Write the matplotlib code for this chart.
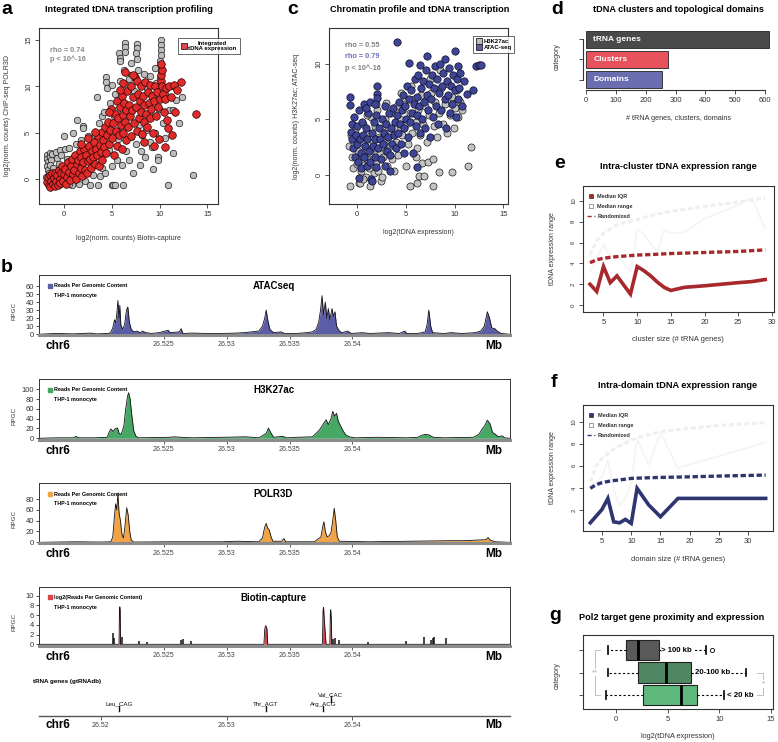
import numpy as np
import matplotlib
matplotlib.use('Agg')
import matplotlib.pyplot as plt
from matplotlib.lines import Line2D

plt.rcParams['font.family'] = ['Liberation Sans', 'DejaVu Sans']

# ---------------- data ----------------
# a: ChIP-seq POLR3D vs Biotin-capture (log2 norm. counts)
a_gray = [(-1.8,2.6),(-1.8,2.2),(-1.7,1.8),(-1.8,1.4),(-1.7,1.0),(-1.5,2.8),(-1.5,2.4),(-1.4,2.0),(-1.5,1.5),
          (-1.3,2.7),(-1.2,1.2),(-1.6,0.6),(-1.9,0.2),(-1.1,0.3),(-0.9,2.9),(-0.8,2.3),(-0.6,1.6),(-0.5,3.1),
          (-0.3,2.6),(-0.2,1.0),(0.1,3.2),(0.0,4.6),(0.3,2.2),(0.5,3.3),(0.6,0.2),(0.9,5.0),(0.8,-0.6),(1.2,3.8),
          (1.3,6.4),(1.5,-0.5),(1.6,2.6),(1.8,4.2),(2.0,5.7),(2.0,5.5),(2.2,-0.2),(2.4,1.0),(2.5,4.6),(2.7,-0.6),
          (2.9,3.5),(3.0,0.4),(3.2,4.8),(3.4,8.9),(3.5,-0.6),(3.6,6.0),(3.7,0.3),(3.8,2.8),(3.9,6.8),(4.0,1.2),
          (4.2,7.2),(4.3,0.6),(4.4,11.0),(4.4,10.5),(4.5,9.8),(4.6,5.2),(4.7,3.1),(4.8,8.2),(5.0,-0.6),(5.1,-0.6),
          (5.0,1.4),(5.2,6.8),(5.3,-0.6),(5.3,9.2),(5.5,2.0),(5.6,4.3),(5.7,13.6),(5.8,13.1),(5.8,12.7),(5.8,10.6),
          (6.0,1.5),(6.1,8.0),(6.2,-0.6),(6.3,11.8),(6.4,14.7),(6.4,14.3),(6.4,13.7),(6.5,3.0),(6.6,10.2),(6.8,2.0),
          (6.9,7.0),(7.0,11.2),(7.2,0.6),(7.3,9.5),(7.5,3.8),(7.6,14.6),(7.6,14.1),(7.5,13.6),(7.6,13.0),(7.7,11.8),
          (7.8,5.8),(7.9,1.5),(8.0,8.8),(8.1,4.7),(8.3,11.3),(8.5,2.4),(8.6,5.3),(8.7,9.8),(8.9,7.0),(9.0,11.1),
          (9.2,3.5),(9.3,1.1),(9.4,8.5),(9.5,5.0),(9.6,10.4),(9.8,2.4),(9.8,2.0),(9.9,7.6),(10.1,15.0),(10.1,14.5),
          (10.1,13.9),(10.1,13.4),(10.0,12.7),(10.0,12.2),(10.1,11.6),(10.0,10.9),(10.3,6.0),(10.5,4.4),(10.6,9.2),
          (10.9,-0.6),(11.0,7.5),(11.2,10.0),(11.4,2.8),(11.4,7.4),(11.7,8.5),(12.0,6.0),(12.3,8.9),(13.5,0.4),
          (9.0,4.0),(8.0,3.0),(7.0,4.5),(6.0,5.5),(3.0,2.0),(2.0,0.5),(1.0,1.5),(0.5,-0.5),(-0.5,-0.5),(4.0,4.5),
          (5.5,7.5),(8.5,10.5),(9.5,12.0),(7.0,12.5),(6.8,10.8),(5.0,10.2)]
a_red = [(-1.8,-0.3),(-1.7,0.2),(-1.6,-0.6),(-1.5,0.4),(-1.5,-0.9),(-1.4,-0.2),(-1.3,0.6),(-1.2,-0.5),(-1.1,0.1),
         (-1.0,-0.8),(-1.0,0.7),(-0.9,-0.2),(-0.8,0.4),(-0.7,-0.6),(-0.6,1.0),(-0.5,0.0),(-0.4,-0.4),(-0.3,0.6),
         (-0.2,1.4),(-0.1,-0.2),(0.0,0.5),(0.1,1.1),(0.2,-0.5),(0.3,0.2),(0.4,1.8),(0.5,0.8),(0.6,-0.1),(0.7,1.4),
         (0.8,2.2),(0.9,0.5),(1.0,1.0),(1.1,2.6),(1.2,0.0),(1.3,1.6),(1.4,2.1),(1.5,0.7),(1.6,3.0),(1.7,1.2),
         (1.8,2.4),(1.9,0.3),(2.0,1.8),(2.1,3.2),(2.2,1.0),(2.3,2.6),(2.4,0.6),(2.5,1.9),(2.6,3.6),(2.7,2.2),
         (2.8,1.2),(2.9,3.0),(3.0,2.4),(3.1,4.0),(3.2,1.6),(3.3,3.2),(3.4,2.6),(3.5,4.6),(3.6,1.4),(3.7,3.7),
         (3.8,2.9),(3.9,5.1),(4.0,2.1),(4.1,4.2),(4.2,3.4),(4.3,5.6),(4.4,2.8),(4.5,4.8),(4.6,6.2),(4.7,3.8),
         (4.8,5.3),(4.9,7.6),(5.0,4.4),(5.1,6.0),(5.2,2.6),(5.3,7.0),(5.4,5.2),(5.5,8.4),(5.5,3.6),(5.6,6.6),
         (5.7,4.8),(5.8,7.8),(5.9,5.8),(6.0,9.0),(6.0,3.2),(6.1,6.9),(6.2,10.4),(6.2,5.0),(6.3,8.2),(6.4,6.2),
         (6.5,7.5),(6.5,4.2),(6.6,9.5),(6.7,5.6),(6.8,8.0),(6.9,6.8),(7.0,10.0),(7.0,4.6),(7.1,7.4),(7.2,8.8),
         (7.3,6.0),(7.4,11.0),(7.5,7.8),(7.6,10.6),(7.6,5.2),(7.7,9.2),(7.8,6.6),(7.9,8.4),(8.0,7.2),(8.0,10.0),
         (8.1,4.9),(8.2,9.0),(8.3,6.2),(8.4,8.0),(8.5,10.5),(8.6,7.0),(8.7,5.6),(8.8,9.4),(8.9,8.2),(9.0,6.6),
         (9.0,10.2),(9.1,7.6),(9.2,9.0),(9.3,5.0),(9.4,8.4),(9.5,10.0),(9.6,6.8),(9.7,9.4),(9.8,7.8),(9.9,4.3),
         (10.0,8.6),(10.1,10.6),(10.1,11.2),(10.2,11.8),(10.1,12.4),(10.2,10.0),(10.3,9.2),(10.4,7.2),(10.5,8.6),
         (10.6,3.4),(10.7,9.8),(10.8,6.4),(11.0,10.0),(11.2,8.8),(11.3,4.8),(11.5,10.2),(11.6,7.2),(11.8,9.6),
         (12.2,10.5),(13.8,7.0),(10.9,5.5),(9.4,3.6),(8.3,4.0),(6.4,11.5),(7.2,11.2),(5.8,9.6),(4.7,7.2),
         (3.2,5.1),(2.5,4.4),(1.8,3.8)]

# c: H3K27ac / ATAC-seq vs tDNA expression
c_h3k27ac = [(-0.8,2.6),(-0.7,-0.95),(-0.6,3.6),(-0.5,1.6),(-0.4,0.6),(-0.3,2.8),(-0.2,4.0),(0.0,1.0),(0.1,2.2),
             (0.2,-0.7),(0.3,-0.7),(0.2,3.2),(0.4,0.4),(0.5,1.8),(0.6,4.6),(0.7,0.9),(0.8,2.6),(0.9,-0.2),(1.0,1.4),
             (1.1,3.8),(1.2,0.6),(1.3,-0.95),(1.3,2.0),(1.4,5.2),(1.5,1.0),(1.6,3.0),(1.7,0.2),(1.8,2.4),(1.9,4.4),
             (2.0,1.2),(2.1,5.8),(2.2,0.4),(2.3,3.4),(2.4,2.0),(2.5,-0.5),(2.6,4.2),(2.7,1.6),(2.8,3.0),(2.9,5.0),
             (3.0,2.2),(3.1,0.8),(3.2,3.8),(3.4,2.6),(3.5,5.6),(3.6,1.4),(3.8,4.2),(4.0,3.0),(4.1,6.2),(4.2,1.8),
             (4.4,5.0),(4.6,3.6),(4.8,6.4),(5.0,0.8),(5.0,4.6),(5.2,2.8),(5.4,-1.0),(5.4,5.6),(5.6,3.8),(5.8,6.8),
             (6.0,4.8),(6.1,2.4),(6.2,-0.75),(6.3,5.8),(6.4,-0.05),(6.5,3.6),(6.6,7.2),(6.7,1.1),(6.8,4.6),(6.9,-0.05),
             (7.0,6.2),(7.2,3.0),(7.3,1.2),(7.4,5.4),(7.6,7.4),(7.8,1.4),(7.8,-0.95),(7.9,4.4),(8.0,6.6),(8.2,3.4),
             (8.4,0.25),(8.4,5.6),(8.6,7.8),(8.8,4.6),(9.0,6.4),(9.2,3.8),(9.3,8.2),(9.5,5.4),(9.7,0.3),(9.7,7.0),
             (9.9,4.2),(10.0,6.0),(10.2,7.6),(10.4,5.2),(10.6,6.6),(10.8,5.8),(11.4,0.85),(11.7,2.5),(3.0,6.5),
             (2.0,6.4),(4.5,7.4),(5.5,8.0),(7.5,8.6),(8.5,9.4),(1.0,5.4),(6.0,1.6),(3.8,0.4),(2.6,-0.2),(0.6,-0.4)]
c_atac = [(-0.7,7.0),(-0.7,6.3),(-0.6,3.9),(-0.5,3.2),(-0.4,2.4),(-0.5,4.6),(-0.3,5.2),(-0.2,1.6),(-0.1,3.6),
          (0.0,2.8),(0.0,4.4),(0.1,1.2),(0.2,-0.3),(0.2,5.8),(0.3,3.2),(0.4,2.0),(0.4,0.6),(0.5,4.8),(0.6,3.6),
          (0.7,6.4),(0.7,1.6),(0.8,2.6),(0.9,4.2),(1.0,0.8),(1.0,3.2),(1.1,5.6),(1.2,2.2),(1.3,6.6),(1.3,1.2),
          (1.4,-0.4),(1.5,3.8),(1.5,-0.5),(1.6,2.6),(1.7,4.8),(1.8,1.6),(1.9,3.2),(2.0,5.4),(2.0,0.7),(2.1,8.0),
          (2.1,7.3),(2.1,6.9),(2.2,2.4),(2.3,4.2),(2.4,3.2),(2.5,1.4),(2.6,5.0),(2.7,2.8),(2.8,3.8),(2.9,0.8),
          (3.0,4.6),(3.1,2.2),(3.2,3.4),(3.3,5.6),(3.4,1.8),(3.5,4.2),(3.6,2.8),(3.7,6.0),(3.8,3.6),(3.9,4.8),
          (4.0,2.4),(4.1,11.9),(4.1,5.4),(4.2,3.8),(4.3,6.6),(4.4,4.6),(4.5,2.8),(4.6,5.8),(4.7,7.2),(4.8,4.2),
          (4.9,6.2),(5.0,5.0),(5.1,8.0),(5.2,3.4),(5.3,10.1),(5.3,6.8),(5.4,4.8),(5.5,7.6),(5.6,5.6),(5.7,2.0),
          (5.8,6.4),(5.9,8.6),(6.0,4.4),(6.1,0.7),(6.1,7.0),(6.2,5.4),(6.3,9.0),(6.4,6.2),(6.5,9.9),(6.5,3.8),
          (6.6,7.8),(6.7,5.0),(6.8,8.4),(6.9,6.6),(7.0,4.2),(7.1,9.4),(7.2,10.7),(7.2,7.2),(7.3,5.8),(7.4,8.2),
          (7.5,3.4),(7.6,6.8),(7.7,9.0),(7.8,5.2),(7.9,7.8),(8.0,9.8),(8.1,6.2),(8.2,8.6),(8.3,4.6),(8.4,7.4),
          (8.5,10.0),(8.6,5.8),(8.7,8.0),(8.8,9.2),(8.97,10.4),(9.0,6.8),(9.1,4.2),(9.2,8.4),(9.3,7.2),(9.4,9.6),
          (9.5,5.6),(9.6,8.0),(9.7,6.4),(9.8,9.0),(10.0,11.1),(10.0,7.6),(10.1,5.2),(10.2,8.6),(10.3,9.8),
          (10.4,6.8),(10.5,7.8),(10.6,9.2),(10.8,6.2),(11.3,7.3),(11.9,7.6),(12.2,9.8),(12.5,9.9),(12.7,9.85),
          (11.0,8.4),(1.8,6.4),(2.9,6.2),(0.9,6.0),(3.4,0.4),(4.8,2.0)]

# b: genome tracks, position in kb from chr6:26.500 Mb
atac_kb = [15.06,16.38,17.85,19.17,19.61,20.64,20.79,20.94,21.08,21.17,21.26,21.35,21.44,21.50,21.58,21.73,21.88,
           22.03,22.14,22.26,22.41,22.61,22.85,23.14,23.29,23.58,24.02,24.61,25.35,25.49,26.23,26.38,26.52,27.26,
           28.43,29.61,30.79,31.37,31.96,32.55,32.84,33.02,33.14,33.26,33.43,33.73,34.31,34.61,35.49,36.37,36.81,
           37.11,37.31,37.46,37.58,37.70,37.84,37.96,38.08,38.20,38.37,38.49,38.61,38.73,38.96,39.17,39.61,39.90,
           40.78,41.37,42.84,43.72,44.16,44.31,45.19,45.78,45.93,46.07,46.22,46.37,47.25,47.84,48.72,49.75,50.19,
           50.48,50.72,50.90,51.07,51.31,51.51,51.81,52.48]
atac_val = [0,1,0.5,1.5,0.5,1,3,8,18,14,25,42,20,36,12,6,12,30,34,15,6,3,4,2,4,2,1,2,5,2,3,7,1,1.5,1,1,1.5,2,3,4,
            10,20,30,18,6,2,3,1,1,2,3,6,15,30,48,25,40,20,32,18,32,22,28,10,4,2,4,1,2,1,2,1,4,1,1,3,12,30,10,2,1,2,
            1,2,4,10,28,20,8,7,4,1,0]
h3k27ac_kb = [15.06,16.5,17.85,18.0,18.2,19.5,20.5,20.64,20.79,20.97,21.14,21.32,21.44,21.61,21.82,21.97,22.11,
              22.20,22.32,22.44,22.61,22.79,23.0,25.49,25.79,26.38,27.26,29.61,31.52,32.55,33.14,33.32,33.49,33.73,
              34.46,34.76,35.49,36.81,37.11,37.40,37.70,37.90,38.08,38.29,38.43,38.58,38.73,38.87,39.02,39.26,39.46,
              39.75,40.19,41.96,44.31,45.19,45.49,45.78,46.07,46.43,47.25,49.61,50.05,50.34,50.55,50.72,50.93,51.13,
              51.37,51.60,51.90,52.10,52.48]
h3k27ac_val = [0,1,1,4,1,1,2,12,19,14,20,21,10,8,25,60,85,93,80,50,15,4,1,2,3,2,1,2,3,1,10,21,12,2,4,1,2,3,10,18,
               30,38,28,40,55,45,51,35,27,15,7,3,1,2,1,2,6,8,7,2,1,2,8,20,27,37,30,12,8,3,5,1,0]
polr3d_kb = [15.06,18.0,20.0,20.79,20.94,21.08,21.17,21.26,21.35,21.44,21.55,21.67,21.79,21.91,22.05,22.17,22.29,
             22.41,22.61,25.49,29.61,30.79,32.55,32.84,33.02,33.14,33.26,33.38,33.53,33.67,34.38,34.55,34.70,36.96,
             37.49,37.64,37.73,37.84,37.99,38.14,38.29,38.43,38.55,38.67,38.79,38.96,41.37,47.69,48.87,50.63,50.78,
             50.95,51.37,52.48]
polr3d_val = [0,1,0.5,1,10,50,71,60,90,55,40,15,8,30,64,50,20,4,0.5,1,1,2,1,8,28,35,26,23,10,2,2,7,1,1,10,30,38,
              20,10,12,18,40,63,40,10,2,1,3,3,5,9,4,1,0]
biotin_kb = [15.06,21.44,21.47,21.50,21.53,21.56,32.96,33.02,33.08,33.14,33.20,33.26,37.61,37.66,37.70,37.76,37.84,
             37.90,38.20,38.24,38.27,38.31,38.36,52.48]
biotin_val = [0,0,7.0,7.7,7.2,0,0,3.0,3.8,3.7,3.2,0,0,7.0,7.6,5.0,2.0,0,0,6.5,7.1,5.5,0,0]
biotin_spike_kb = [20.94,21.06,21.67,23.0,23.67,26.38,26.52,27.2,38.49,38.61,38.96,41.23,44.22,45.70,46.23,46.37,
                   46.51,47.41]
biotin_spike_val = [2.3,1.2,1.5,0.6,0.5,0.8,1.0,0.6,1.0,1.2,0.8,0.5,0.6,1.5,0.8,1.2,1.5,1.2]
trna_names = ['Leu_CAG', 'Thr_AGT', 'Arg_ACG', 'Val_CAC']
trna_kb = [21.46, 33.13, 37.69, 38.28]

# d
d_cats = ['tRNA genes', 'Clusters', 'Domains']
d_counts = [612, 276, 256]

# e: intra-cluster range
e_iqr_size = [3,4,5,6,7,9,10,11,12,13,14,15,17,20,25,27,29]
e_iqr = [2.0,1.3,3.7,2.15,2.8,1.05,3.7,3.3,2.8,2.2,1.7,1.4,1.7,1.85,2.15,2.25,2.45]
e_rand_size = [3,4,5,6,7,8,9,10,12,15,20,25,29]
e_iqr_rand = [4.07,4.35,4.5,4.58,4.65,4.7,4.75,4.8,4.85,4.95,5.05,5.15,5.3]
e_range_rand = [4.8,6.2,6.9,7.3,7.7,7.9,8.05,8.2,8.6,9.0,9.5,9.9,10.3]
e_range_size = [3,5,6,7,9,10,11,12,13,14,15,17,20,25,27,29]
e_range = [3.2,5.8,4.6,4.8,3.2,7.3,6.8,5.9,5.2,7.2,6.9,7.0,8.3,9.6,10.3,7.3]

# f: intra-domain range
f_iqr_size = [3,5,6,7,8,9,10,11,13,15,18,33]
f_iqr = [0.84,2.05,3.05,0.93,0.84,1.15,0.79,3.96,2.45,1.39,3.05,3.05]
f_rand_size = [3,4,5,6,7,8,10,12,15,20,25,33]
f_iqr_rand = [3.96,4.3,4.47,4.58,4.66,4.72,4.86,4.9,4.95,5.0,5.07,5.16]
f_range_rand = [4.56,6.0,6.67,7.1,7.5,7.8,8.33,8.7,9.09,9.4,9.65,9.9]
f_range_size = [3,5,6,7,8,9,10,11,13,15,18,33]
f_range = [4.0,5.0,6.5,3.9,2.4,3.0,4.4,8.4,6.1,9.0,5.8,8.1]

# g: Pol2 target gene distance groups
g_groups = ['> 100 kb', '20-100 kb', '< 20 kb']
g_whislo = [-0.75, -0.75, -1.0]
g_q1 = [0.97, 2.16, 2.64]
g_med = [2.16, 4.81, 6.26]
g_q3 = [4.16, 7.26, 7.81]
g_whishi = [8.7, 12.58, 10.45]
g_fliers = [[9.26], [], []]

# ---------------- figure ----------------
W, H = 778, 742
fig = plt.figure(figsize=(W / 100, H / 100), dpi=100)


def ax_px(l, t, r, b):
    return fig.add_axes([l / W, 1 - b / H, (r - l) / W, (b - t) / H])


def txt(x, y, s, **kw):
    kw.setdefault('ha', 'center')
    kw.setdefault('va', 'center')
    fig.text(x / W, 1 - y / H, s, **kw)


def rstyle(ax, fs=5.5):
    for s in ax.spines.values():
        s.set_color('#333333')
        s.set_linewidth(0.8)
    ax.tick_params(direction='out', length=3, width=0.6, colors='#333333', labelsize=fs, pad=2)


def rot_y(ax):
    for lab in ax.get_yticklabels():
        lab.set_rotation(90)
        lab.set_va('center')


# panel letters
for s, x, y in [('a', 7, 9), ('b', 7, 267), ('c', 293, 9), ('d', 557, 9), ('e', 560, 163), ('f', 554, 383),
                ('g', 555, 615)]:
    txt(x, y, s, fontsize=14, weight='bold')

# ---- a ----
ax = ax_px(39, 28, 218, 204)
gx, gy = np.array(a_gray).T
rx, ry = np.array(a_red).T
ax.scatter(gx, gy, s=22, c='#bdbdbd', edgecolors='#1a1a1a', linewidths=0.5, zorder=2)
ax.scatter(rx, ry, s=30, c='#e12b2b', edgecolors='#2a0000', linewidths=0.5, zorder=3)
ax.set_xlim(-2.65, 16.1)
ax.set_ylim(-2.7, 16.3)
ax.set_xticks([0, 5, 10, 15])
ax.set_yticks([0, 5, 10, 15])
rstyle(ax)
rot_y(ax)
ax.text(-1.5, 13.9, 'rho = 0.74', color='#888888', fontsize=5.3, weight='bold', va='center')
ax.text(-1.5, 12.9, 'p < 10^-16', color='#888888', fontsize=5.3, weight='bold', va='center')
leg = ax.legend([Line2D([], [], ls='', marker='s', ms=5, mfc='#e8434f', mec='#222222', mew=0.6)],
                ['Integrated\ntDNA expression'], loc='upper left', bbox_to_anchor=(0.775, 0.945),
                fontsize=4.3, frameon=True, fancybox=False, edgecolor='#222222', borderpad=0.5,
                handletextpad=0.3, handlelength=1.0, borderaxespad=0)
leg.get_frame().set_linewidth(0.6)
for t in leg.get_texts():
    t.set_weight('bold')
    t.set_multialignment('center')
leg.set_zorder(5)
txt(128.5, 9.5, 'Integrated tDNA transcription profiling', fontsize=6.6, weight='bold')
txt(128.5, 239, 'log2(norm. counts) Biotin-capture', fontsize=5, color='#333333')
txt(7.5, 116, 'log2(norm. counts) ChIP-seq POLR3D', fontsize=5, rotation=90, color='#333333')

# ---- c ----
ax = ax_px(329.3, 28, 508.3, 204)
hx, hy = np.array(c_h3k27ac).T
bx, by = np.array(c_atac).T
ax.scatter(hx, hy, s=26, c='#c4c4c4', edgecolors='#1a1a1a', linewidths=0.5, zorder=2)
ax.scatter(bx, by, s=28, c='#3f4596', edgecolors='#0d0d26', linewidths=0.5, zorder=3)
ax.set_xlim(-2.83, 15.5)
ax.set_ylim(-2.6, 13.2)
ax.set_xticks([0, 5, 10, 15])
ax.set_yticks([0, 5, 10])
rstyle(ax)
rot_y(ax)
ax.text(-1.2, 11.6, 'rho = 0.55', color='#808080', fontsize=5.3, weight='bold', va='center')
ax.text(-1.2, 10.6, 'rho = 0.79', color='#6b6fb5', fontsize=5.3, weight='bold', va='center')
ax.text(-1.2, 9.55, 'p < 10^-16', color='#808080', fontsize=5.3, weight='bold', va='center')
leg = ax.legend([Line2D([], [], ls='', marker='s', ms=4.5, mfc='#bebebe', mec='#222222', mew=0.6),
                 Line2D([], [], ls='', marker='s', ms=4.5, mfc='#5a5ea8', mec='#222222', mew=0.6)],
                ['H3K27ac', 'ATAC-seq'], loc='upper left', bbox_to_anchor=(0.804, 0.952),
                fontsize=4.3, frameon=True, fancybox=False, edgecolor='#222222', borderpad=0.4,
                handletextpad=0.4, handlelength=1.0, labelspacing=0.2, borderaxespad=0)
leg.get_frame().set_linewidth(0.6)
for t in leg.get_texts():
    t.set_weight('bold')
leg.set_zorder(5)
txt(419.7, 9.5, 'Chromatin profile and tDNA transcription', fontsize=6.6, weight='bold')
txt(418.8, 232, 'log2(tDNA expression)', fontsize=5, color='#333333')
txt(296, 116, 'log2(norm. counts) H3K27ac; ATAC-seq', fontsize=5, rotation=90, color='#333333')

# ---- d ----
ax = ax_px(583, 30, 769.5, 90)
d_colors = ['#4a4a4a', '#e8525c', '#6a6eb0']
ax.barh([3, 2, 1], d_counts, height=0.84, color=d_colors, edgecolor='#222222', linewidth=0.6)
for yy, lab in zip([3, 2, 1], d_cats):
    ax.text(24, yy, lab, color='white', weight='bold', fontsize=6, va='center', ha='left')
ax.set_xlim(-10, 615)
ax.set_ylim(0.49, 3.46)
rstyle(ax)
ax.spines['top'].set_visible(False)
ax.spines['right'].set_visible(False)
ax.spines['left'].set_bounds(1, 3)
ax.spines['bottom'].set_bounds(0, 600)
ax.set_yticks([1, 2, 3])
ax.set_yticklabels([])
ax.set_xticks(range(0, 601, 100))
txt(678, 9.5, 'tDNA clusters and topological domains', fontsize=6.6, weight='bold')
txt(678, 118.5, '# tRNA genes, clusters, domains', fontsize=5.2, color='#333333')
txt(557, 57, 'category', fontsize=5, rotation=90, color='#333333')


# ---- e / f ----
def range_panel(box, c, rs, r, rrs, rr, irs, ir, iqs, iq, xlim, ylim, yticks, title, xlabel, ty, xy):
    ax = ax_px(*box)
    ax.plot(rs, r, color='#f5f5f5', lw=1.4, zorder=1)
    ax.plot(rrs, rr, color='#efefef', lw=2.2, ls=(0, (1.6, 0.9)), zorder=1)
    ax.plot(irs, ir, color=c, lw=2.4, ls=(0, (1.6, 0.8)), zorder=2)
    ax.plot(iqs, iq, color=c, lw=2.6, solid_joinstyle='miter', zorder=3)
    ax.set_xlim(*xlim)
    ax.set_ylim(*ylim)
    ax.set_xticks([5, 10, 15, 20, 25, 30])
    ax.set_yticks(yticks)
    rstyle(ax, fs=5.5)
    ax.tick_params(axis='y', labelsize=4.3)
    rot_y(ax)
    handles = [Line2D([], [], ls='', marker='s', ms=3, mfc=c, mec='#333333', mew=0.5),
               Line2D([], [], ls='', marker='s', ms=3, mfc='white', mec='#777777', mew=0.5),
               Line2D([], [], color=c, lw=1.0, ls=(0, (3, 2)))]
    leg = ax.legend(handles, ['Median IQR', 'Median range', 'Randomized'], loc='upper left',
                    bbox_to_anchor=(0.0, 0.97), fontsize=4, frameon=False, handlelength=1.4,
                    handletextpad=0.5, labelspacing=0.9, borderaxespad=0.3)
    for t in leg.get_texts():
        t.set_weight('bold')
        t.set_color('#333333')
    txt(678, ty, title, fontsize=6.6, weight='bold')
    txt(678, xy, xlabel, fontsize=5.4, color='#333333')
    txt(553, (box[1] + box[3]) / 2, 'tDNA expression range', fontsize=5, rotation=90, color='#333333')
    return ax


range_panel((583, 186, 774, 312), '#a8282c', e_range_size, e_range, e_rand_size, e_range_rand,
            e_rand_size, e_iqr_rand, e_iqr_size, e_iqr, (1.96, 30.3), (-0.67, 11.44), [0, 2, 4, 6, 8, 10],
            'Intra-cluster tDNA expression range', 'cluster size (# tRNA genes)', 166.7, 339.3)
range_panel((583.3, 405, 772.7, 531), '#2d3670', f_range_size, f_range, f_rand_size, f_range_rand,
            f_rand_size, f_iqr_rand, f_iqr_size, f_iqr, (1.8, 34.2), (0.1, 11.5), [2, 4, 6, 8, 10],
            'Intra-domain tDNA expression range', 'domain size (# tRNA genes)', 386, 559.3)

# ---- g ----
ax = ax_px(583.3, 635, 772.7, 709)
stats = []
for i in range(3):
    stats.append(dict(med=g_med[i], q1=g_q1[i], q3=g_q3[i], whislo=g_whislo[i], whishi=g_whishi[i],
                      fliers=g_fliers[i]))
bp = ax.bxp(stats, positions=[3, 2, 1], widths=0.92, vert=False, patch_artist=True, capwidths=0.32,
            boxprops=dict(edgecolor='#222222', linewidth=0.8),
            medianprops=dict(color='black', linewidth=2),
            whiskerprops=dict(color='black', linewidth=0.8, linestyle=(0, (2, 2))),
            capprops=dict(color='black', linewidth=1.2),
            flierprops=dict(marker='o', mfc='none', mec='black', ms=3, mew=0.6))
for patch, col in zip(bp['boxes'], ['#5a5a5a', '#4f8762', '#5fb97c']):
    patch.set_facecolor(col)
for yy, xx, lab in zip([3, 2, 1], [4.4, 7.65, 10.7], g_groups):
    ax.text(xx, yy, lab, fontsize=5.6, weight='bold', va='center', ha='left',
            bbox=dict(facecolor='white', edgecolor='none', pad=0.5), zorder=5)
ax.plot([-1.55, -2.0, -2.0, -1.55], [3, 3, 1, 1], color='#b5b5b5', lw=0.6)
ax.text(-2.0, 2, '**', color='#aaaaaa', fontsize=5.5, ha='center', va='center',
        bbox=dict(facecolor='white', edgecolor='none', pad=0.3))
ax.plot([13.6, 14.26, 14.26, 13.6], [2, 2, 1, 1], color='#b5b5b5', lw=0.6)
ax.text(14.26, 1.5, '*', color='#aaaaaa', fontsize=6, ha='center', va='center',
        bbox=dict(facecolor='white', edgecolor='none', pad=0.3))
ax.set_xlim(-3.16, 15.16)
ax.set_ylim(0.38, 3.67)
ax.set_xticks([0, 5, 10, 15])
ax.set_yticks([1, 2, 3])
ax.set_yticklabels([])
rstyle(ax)
txt(672, 617, 'Pol2 target gene proximity and expression', fontsize=6.6, weight='bold')
txt(678, 736, 'log2(tDNA expression)', fontsize=5.3, color='#333333')
txt(557, 676, 'category', fontsize=5, rotation=90, color='#333333')

# ---- b: tracks ----
TL, TR = 38.8, 509.7
XL = (26.51506, 26.5525)


def track_axis(ax, b):
    ax.set_xlim(*XL)
    ax.tick_params(axis='x', direction='out', length=3, width=0.6, colors='#444444', labelsize=5, pad=1.5)
    txt(58, b + 11, 'chr6', fontsize=8.5, weight='bold')
    txt(493.5, b + 11, 'Mb', fontsize=8.5, weight='bold')


def track(t, b, kb, val, color, ylim, yticks, title, leglab):
    ax = ax_px(TL, t, TR, b)
    x = 26.5 + np.array(kb) / 1000
    ax.fill_between(x, 0, val, color=color, lw=0)
    ax.plot(x, val, color='#111111', lw=0.6)
    ax.set_ylim(*ylim)
    ax.set_yticks(yticks)
    ax.set_xticks([26.525, 26.53, 26.535, 26.54])
    ax.set_xticklabels(['26.525', '26.53', '26.535', '26.54'])
    for s in ['top', 'left', 'right']:
        ax.spines[s].set_color('#333333')
        ax.spines[s].set_linewidth(0.7)
    ax.spines['bottom'].set_color('#8c8c8c')
    ax.spines['bottom'].set_linewidth(2.2)
    ax.tick_params(axis='y', direction='out', length=2.5, width=0.6, colors='#333333', labelsize=5.5, pad=1)
    track_axis(ax, b)
    txt(14, (t + b) / 2 + 6, 'RPGC', fontsize=4.5, rotation=90, color='#333333')
    txt(273.5, t + 11, title, fontsize=7, weight='bold')
    ax.plot([(50 - TL) / (TR - TL)], [1 - 10.7 / (b - t)], 's', ms=2.3, color=color,
            transform=ax.transAxes, clip_on=False)
    txt(54.5, t + 10.7, leglab, fontsize=3.9, weight='bold', ha='left')
    txt(54.5, t + 20.3, 'THP-1 monocyte', fontsize=3.9, weight='bold', ha='left')
    return ax


track(275.3, 335, atac_kb, atac_val, '#5b5ea6', (-0.9, 73.3), range(0, 61, 10), 'ATACseq',
      'Reads Per Genomic Content')
track(379.3, 440, h3k27ac_kb, h3k27ac_val, '#47a765', (-3.5, 120.4), range(0, 101, 20), 'H3K27ac',
      'Reads Per Genomic Content')
track(483.3, 543.3, polr3d_kb, polr3d_val, '#f0a347', (-1.8, 109), range(0, 81, 20), 'POLR3D',
      'Reads Per Genomic Content')
ax = track(586.7, 646, biotin_kb, biotin_val, '#d9434b', (-0.35, 11.85), range(0, 11, 2), 'Biotin-capture',
           'log2(Reads Per Genomic Content)')
ax.vlines(26.5 + np.array(biotin_spike_kb) / 1000, 0, biotin_spike_val, color='#111111', lw=1.1)

# tRNA gene track
ax = ax_px(TL, 670, TR, 716)
for s in ['top', 'left', 'right']:
    ax.spines[s].set_visible(False)
ax.spines['bottom'].set_color('#555555')
ax.spines['bottom'].set_linewidth(1.0)
ax.set_ylim(0, 1)
ax.set_yticks([])
ax.set_xticks([26.52, 26.53, 26.54])
ax.set_xticklabels(['26.52', '26.53', '26.54'])
track_axis(ax, 713.5)
for name, kb in zip(trna_names, trna_kb):
    yl = 0.457 if name == 'Val_CAC' else 0.254
    xx = 26.5 + kb / 1000
    ax.text(xx, yl, name, fontsize=4.5, ha='center', va='center', color='#111111')
    ax.plot([xx, xx], [yl - 0.03, yl - 0.15], color='#111111', lw=1.0)
txt(33, 681, 'tRNA genes (gtRNAdb)', fontsize=4.5, weight='bold', ha='left')

fig.savefig('out.png', dpi=100)
